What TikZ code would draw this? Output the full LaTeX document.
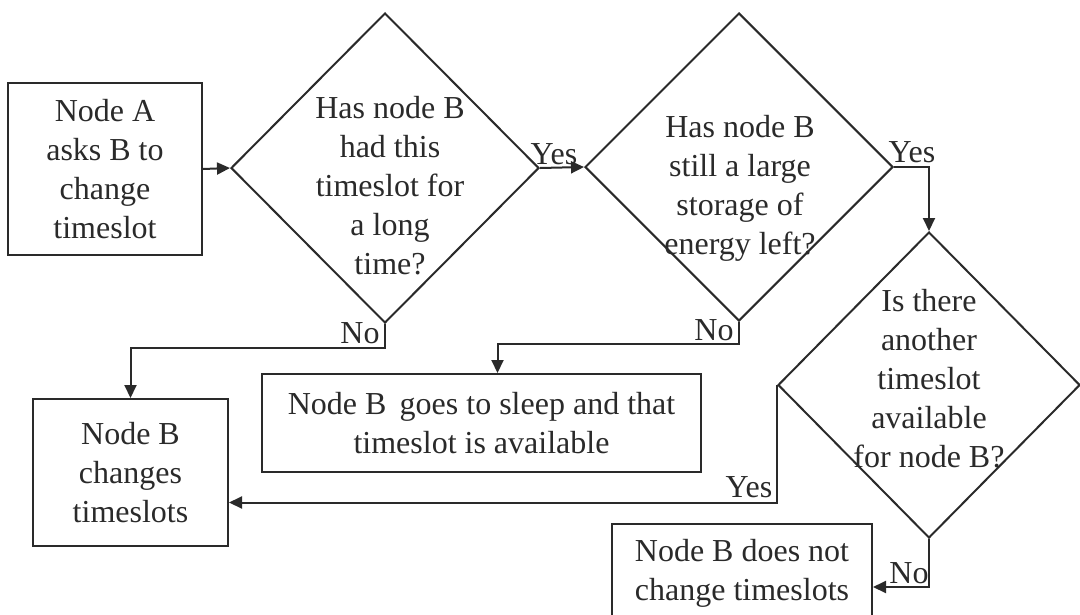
\documentclass[tikz,border=0pt]{standalone}
\usepackage{fontspec}
\setmainfont{Liberation Serif}
\usetikzlibrary{shapes.geometric,arrows.meta}
\definecolor{ink}{HTML}{2A2A2A}
\begin{document}
\begin{tikzpicture}[x=1pt,y=-1pt,
  every node/.style={text=ink, font=\fontsize{32}{39}\selectfont},
  box/.style={draw=ink, line width=2pt, rectangle, align=center, inner sep=0pt},
  dia/.style={draw=ink, line width=2pt, diamond, inner sep=0pt},
  txt/.style={align=center, inner sep=0pt},
  lab/.style={anchor=base, inner sep=0pt},
  conn/.style={draw=ink, line width=2pt, -{Triangle[length=13pt,width=12pt]}}]
\useasboundingbox (0,0) rectangle (1080,614);
% boxes
\node[box, minimum width=194pt, minimum height=172pt] (A) at (105,169) {Node A\\asks B to\\change\\timeslot};
\node[box, minimum width=195pt, minimum height=147pt] (B) at (130.5,472.5) {Node B\\changes\\timeslots};
\node[box, minimum width=439pt, minimum height=98pt] (S) at (481.5,423) {Node B\, goes to sleep and that\\timeslot is available};
\node[box, minimum width=260pt, minimum height=98pt] (N) at (742,573) {Node B does not\\change timeslots};
% diamonds
\node[dia, minimum width=308pt, minimum height=310pt] (D1) at (385,168) {};
\node[dia, minimum width=308pt, minimum height=308pt] (D2) at (739,167) {};
\node[dia, minimum width=302pt, minimum height=306pt] (D3) at (929,385) {};
\node[txt] (T1) at (390,186) {Has node B\\had this\\timeslot for\\a long\\time?};
\node[txt] (T2) at (740,188) {Has node B\\still a large\\storage of\\energy left?};
\node[txt] (T3) at (929,379) {Is there\\another\\timeslot\\available\\for node B?};
% connectors
\draw[conn] (A.east) -- (D1.west);
\draw[conn] (D1.east) -- (D2.west);
\draw[conn] (D2.east) -| (D3.north);
\draw[conn] (D1.south) |- ++(0,24) -| (B.north);
\draw[conn] (D2.south) |- ++(0,22) -| ([xshift=16pt]S.north);
\draw[conn] (D3.west) |- ([yshift=-30pt]B.east);
\draw[conn] (D3.south) |- ([yshift=-14pt]N.east);
% labels
\node[lab] (y1) at (554,164) {Yes};
\node[lab] (y2) at (912,162) {Yes};
\node[lab] (n1) at (360,343) {No};
\node[lab] (n2) at (714,340) {No};
\node[lab] (y3) at (749,497) {Yes};
\node[lab] (n3) at (909,583) {No};
\end{tikzpicture}
\end{document}
